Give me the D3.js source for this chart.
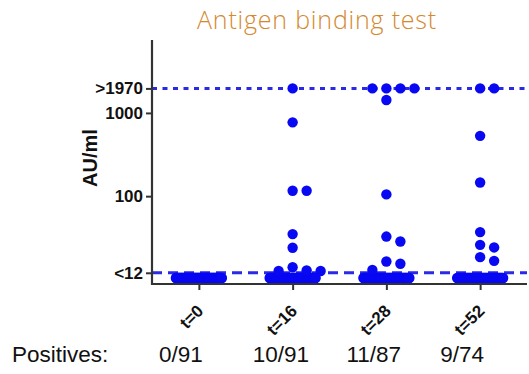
<!DOCTYPE html>
<html>
<head>
<meta charset="utf-8">
<script src="https://cdn.jsdelivr.net/npm/d3@7"></script>
<style>
  html, body { margin: 0; padding: 0; background: #fff; }
  svg { display: block; }
</style>
</head>
<body>
<svg id="chart" width="529" height="374"></svg>
<script>
// Sampling time points and number of sera tested at each
const timepoints = ["t=0", "t=16", "t=28", "t=52"];
const tested = [91, 91, 87, 74];

// Titres of the positive sera (AU/ml); 1970 is the upper reporting limit
const positivesT0 = [];
const positivesT16 = [1970, 770, 116, 116, 35, 24, 14, 12.8, 12.6, 12.6];
const positivesT28 = [1970, 1970, 1970, 1970, 1430, 105, 32.7, 28.5, 16.4, 15.4, 13];
const positivesT52 = [1970, 1970, 530, 146, 37, 26, 24.2, 18.5, 16.7];
const positiveValues = [positivesT0, positivesT16, positivesT28, positivesT52];

const upperLimit = 1970;
const lowerLimit = 12;
const belowLimitValue = 10.4;   // plotting value for sera under the detection limit

const yTickValues = [12, 100, 1000, 1970];
const yTickLabels = ["<12", "100", "1000", ">1970"];

const svg = d3.select("#chart");
const plotLeft = 152, plotRight = 527, plotTop = 40, plotBottom = 284;
const r = 5.2;
const blue = "#0808f2";
const lineBlue = "#2a2ae6";
const axisColor = "#333";

const x = d3.scalePoint().domain(timepoints).range([plotLeft, plotRight]).padding(0.5);
const y = d3.scaleLog().domain([8.8, 7520]).range([plotBottom, plotTop]);

// Title
svg.append("text")
  .attr("x", 317).attr("y", 29)
  .attr("text-anchor", "middle")
  .attr("font-family", "'Open Sans', sans-serif")
  .attr("font-weight", 300)
  .attr("font-size", 25)
  .attr("letter-spacing", 0.8)
  .attr("fill", "#d4892f")
  .text("Antigen binding test");

// Limit lines
svg.append("line")
  .attr("x1", plotLeft).attr("x2", plotRight)
  .attr("y1", y(upperLimit)).attr("y2", y(upperLimit))
  .attr("stroke", lineBlue).attr("stroke-width", 3)
  .attr("stroke-dasharray", "5,5.5");
svg.append("line")
  .attr("x1", plotLeft).attr("x2", plotRight)
  .attr("y1", y(lowerLimit)).attr("y2", y(lowerLimit))
  .attr("stroke", lineBlue).attr("stroke-width", 3)
  .attr("stroke-dasharray", "10,6");

// Simple column swarm: points that would overlap step sideways, right first
function swarm(values, cx) {
  const step = 14, minDy = 2 * r + 1;
  const placed = [];
  values.forEach(v => {
    const cy = y(v);
    for (let k = 0; ; k++) {
      const slot = k === 0 ? 0 : (k % 2 ? (k + 1) / 2 : -k / 2);
      if (!placed.some(p => p.slot === slot && Math.abs(p.cy - cy) < minDy)) {
        placed.push({ v, slot, cy });
        break;
      }
    }
  });
  return placed.map(p => ({ value: p.v, cx: cx + p.slot * step, cy: p.cy }));
}

const points = [];
timepoints.forEach((t, i) => {
  const cx = x(t);
  const pos = positiveValues[i];
  const nNeg = tested[i] - pos.length;
  const half = 23;
  for (let j = 0; j < nNeg; j++) {
    points.push({ value: belowLimitValue, cx: cx - half + (2 * half * j) / Math.max(1, nNeg - 1), cy: y(belowLimitValue) });
  }
  swarm(pos, cx).forEach(p => points.push(p));
});

svg.append("g").selectAll("circle")
  .data(points)
  .join("circle")
  .attr("cx", d => d.cx)
  .attr("cy", d => d.cy)
  .attr("r", r)
  .attr("fill", blue);

// Axes
const yAxis = d3.axisLeft(y)
  .tickValues(yTickValues)
  .tickFormat((d, i) => yTickLabels[i])
  .tickSize(6)
  .tickPadding(3);
const gy = svg.append("g").attr("transform", `translate(${plotLeft},0)`).call(yAxis);
gy.select(".domain").attr("stroke", axisColor).attr("stroke-width", 2.2)
  .attr("d", `M0,${plotTop}V${plotBottom + 1}`);
gy.selectAll(".tick line").attr("stroke", axisColor).attr("stroke-width", 2);
gy.selectAll(".tick text")
  .attr("font-family", "'Liberation Sans', Arial, sans-serif")
  .attr("font-weight", "bold")
  .attr("font-size", 17)
  .attr("fill", "#111");

const xAxis = d3.axisBottom(x).tickSize(6).tickFormat(d => d);
const gx = svg.append("g").attr("transform", `translate(0,${plotBottom})`).call(xAxis);
gx.select(".domain").attr("stroke", axisColor).attr("stroke-width", 2.2)
  .attr("d", `M${plotLeft - 1},0H${plotRight}`);
gx.selectAll(".tick line").attr("stroke", axisColor).attr("stroke-width", 2);
gx.selectAll(".tick text")
  .attr("font-family", "'Liberation Sans', Arial, sans-serif")
  .attr("font-weight", "bold")
  .attr("font-size", 17)
  .attr("fill", "#111")
  .attr("text-anchor", "end")
  .attr("dy", null)
  .attr("y", 0)
  .attr("transform", "translate(5,28) rotate(-45)");

// Y axis title
svg.append("text")
  .attr("transform", "translate(97,158) rotate(-90)")
  .attr("text-anchor", "middle")
  .attr("font-family", "'Liberation Sans', Arial, sans-serif")
  .attr("font-weight", "bold")
  .attr("font-size", 20)
  .attr("fill", "#111")
  .text("AU/ml");

// Positives row
const rowY = 362;
svg.append("text")
  .attr("x", 12).attr("y", rowY)
  .attr("font-family", "'Liberation Sans', Arial, sans-serif")
  .attr("font-size", 22.5)
  .attr("fill", "#111")
  .text("Positives:");
svg.append("g").selectAll("text")
  .data(timepoints)
  .join("text")
  .attr("x", t => x(t) - 40)
  .attr("y", rowY)
  .attr("font-family", "'Liberation Sans', Arial, sans-serif")
  .attr("font-size", 22.5)
  .attr("fill", "#111")
  .text((t, i) => `${positiveValues[i].length}/${tested[i]}`);
</script>
</body>
</html>
